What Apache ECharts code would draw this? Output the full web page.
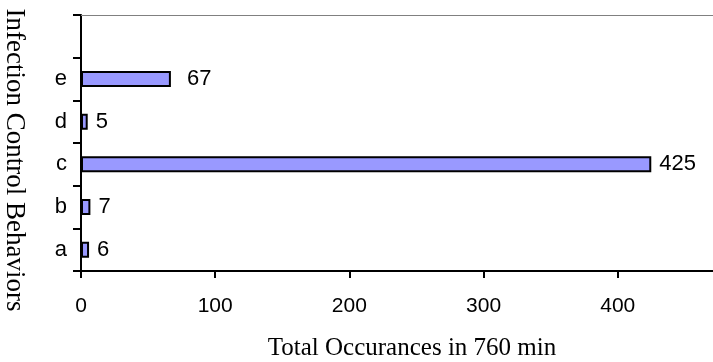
<!DOCTYPE html>
<html><head><meta charset="utf-8">
<script src="https://cdn.jsdelivr.net/npm/echarts@6/dist/echarts.min.js"></script>
<style>html,body{margin:0;padding:0;background:#fff}#c{width:713px;height:362px}</style>
</head><body><div id="c"></div>
<script>
const categories = ['a', 'b', 'c', 'd', 'e', ''];
const values = [6, 7, 425, 5, 67, null];
const xTicks = [0, 100, 200, 300, 400];
const yTitle = 'Infection Control Behaviors';
const xTitle = 'Total Occurances in 760 min';

const chart = echarts.init(document.getElementById('c'));
chart.setOption({
  animation: false,
  grid: {left: 81, right: 0, top: 15, bottom: 91},
  xAxis: [{
    type: 'value', min: 0, max: 471, interval: 100,
    axisLine: {show: true, lineStyle: {color: '#000', width: 2}},
    axisTick: {show: true, length: 7, lineStyle: {color: '#000', width: 2}},
    splitLine: {show: false},
    axisLabel: {
      margin: 25, color: '#000', fontFamily: 'Liberation Sans, Arial', fontSize: 21,
      showMaxLabel: false,
      formatter: v => xTicks.indexOf(v) >= 0 ? String(v) : ''
    }
  }, {
    type: 'value', position: 'top', min: 0, max: 471,
    axisLine: {show: true, lineStyle: {color: '#808080', width: 1}},
    axisTick: {show: false}, axisLabel: {show: false}, splitLine: {show: false}
  }],
  yAxis: {
    type: 'category', data: categories,
    axisLine: {show: true, lineStyle: {color: '#000', width: 2}},
    axisTick: {show: true, length: 8, lineStyle: {color: '#000', width: 2}},
    axisLabel: {margin: 14, color: '#000', fontFamily: 'Liberation Sans, Arial', fontSize: 22}
  },
  series: [{
    type: 'bar', barWidth: 16, xAxisIndex: 0,
    data: values.map((v, i) => ({value: v, label: {distance: i === 4 ? 16 : 8}})),
    itemStyle: {color: '#9999FF', borderColor: '#000', borderWidth: 2},
    label: {show: true, position: 'right', color: '#000', fontFamily: 'Liberation Sans, Arial', fontSize: 22}
  }],
  graphic: [
    {type: 'text', x: 14, y: 160, rotation: -Math.PI / 2,
     style: {text: yTitle, fill: '#000', font: '27px "Liberation Serif", "Times New Roman", serif', textAlign: 'center', textVerticalAlign: 'middle'}},
    {type: 'text', x: 412, y: 348,
     style: {text: xTitle, fill: '#000', font: '25px "Liberation Serif", "Times New Roman", serif', textAlign: 'center', textVerticalAlign: 'middle'}}
  ]
});
</script></body></html>
